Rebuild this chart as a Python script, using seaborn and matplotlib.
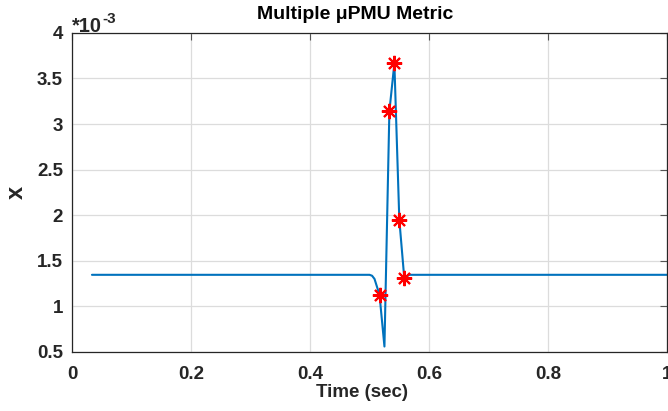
import numpy as np
import pandas as pd
import matplotlib
matplotlib.use("Agg")
import matplotlib.pyplot as plt
import seaborn as sns

# metric trace (values in units of 1e-3)
time_s = [0.0333, 0.5, 0.5042, 0.5083, 0.5167, 0.525, 0.5333, 0.5417, 0.55, 0.5583, 0.5667, 1.0]
metric = [1.345, 1.345, 1.335, 1.30, 1.126, 0.558, 3.14, 3.665, 1.95, 1.31, 1.345, 1.345]

# flagged samples
flag_time = [0.5167, 0.5333, 0.5417, 0.55, 0.5583]
flag_metric = [1.126, 3.14, 3.665, 1.95, 1.31]

xticks = [0, 0.2, 0.4, 0.6, 0.8, 1]
xtick_labels = ["0", "0.2", "0.4", "0.6", "0.8", "1"]
yticks = [0.5, 1, 1.5, 2, 2.5, 3, 3.5, 4]
ytick_labels = ["0.5", "1", "1.5", "2", "2.5", "3", "3.5", "4"]

sns.set_style("white")
plt.rcParams['font.family'] = ['Liberation Sans', 'DejaVu Sans']

trace = pd.DataFrame({"t": time_s, "x": metric})
flags = pd.DataFrame({"t": flag_time, "x": flag_metric})

fig = plt.figure(figsize=(6.68, 4.11), dpi=100)
ax = fig.add_axes([0.108, 0.144, 0.8905, 0.776])

sns.lineplot(data=trace, x="t", y="x", color="#0072BD", linewidth=1.5, ax=ax, sort=False)
ax.plot(flags["t"], flags["x"], linestyle="none", marker=(8, 2, 0), markersize=11,
        markeredgecolor="red", markeredgewidth=1.5, color="red")

ax.set_xlim(0, 1)
ax.set_ylim(0.5, 4)
ax.set_xticks(xticks)
ax.set_xticklabels(xtick_labels)
ax.set_yticks(yticks)
ax.set_yticklabels(ytick_labels)
ax.grid(True, color="#dcdcdc", linewidth=0.9)
ax.set_axisbelow(True)
ax.tick_params(direction="in", length=5, width=0.8, color="#555555",
               top=True, right=True, labelsize=13.5)
ax.tick_params(axis="x", pad=10.5)
ax.tick_params(axis="y", pad=6.5)
for lab in ax.get_xticklabels() + ax.get_yticklabels():
    lab.set_fontweight("bold")
    lab.set_color("#262626")
for s in ax.spines.values():
    s.set_color("#262626")
    s.set_linewidth(0.9)

ax.set_xlabel("Time (sec)", fontsize=13.5, fontweight="bold", color="#262626")
ax.xaxis.set_label_coords(0.487, -0.102)
ax.set_ylabel("x", fontsize=17, fontweight="bold", color="#262626")
ax.yaxis.set_label_coords(-0.074, 0.501)
ax.set_title("Multiple \u03bcPMU Metric", fontsize=14, fontweight="bold", color="#000000",
             pad=10, x=0.476)
# exponent label, MATLAB style
ax.text(0.0, 1.004, "*10", transform=ax.transAxes, ha="left", va="baseline",
        fontsize=14.5, fontweight="bold", color="#262626")
ax.text(0.050, 1.03, "-3", transform=ax.transAxes, ha="left", va="baseline",
        fontsize=11, fontweight="bold", color="#262626")

fig.savefig("out.png", dpi=100)
